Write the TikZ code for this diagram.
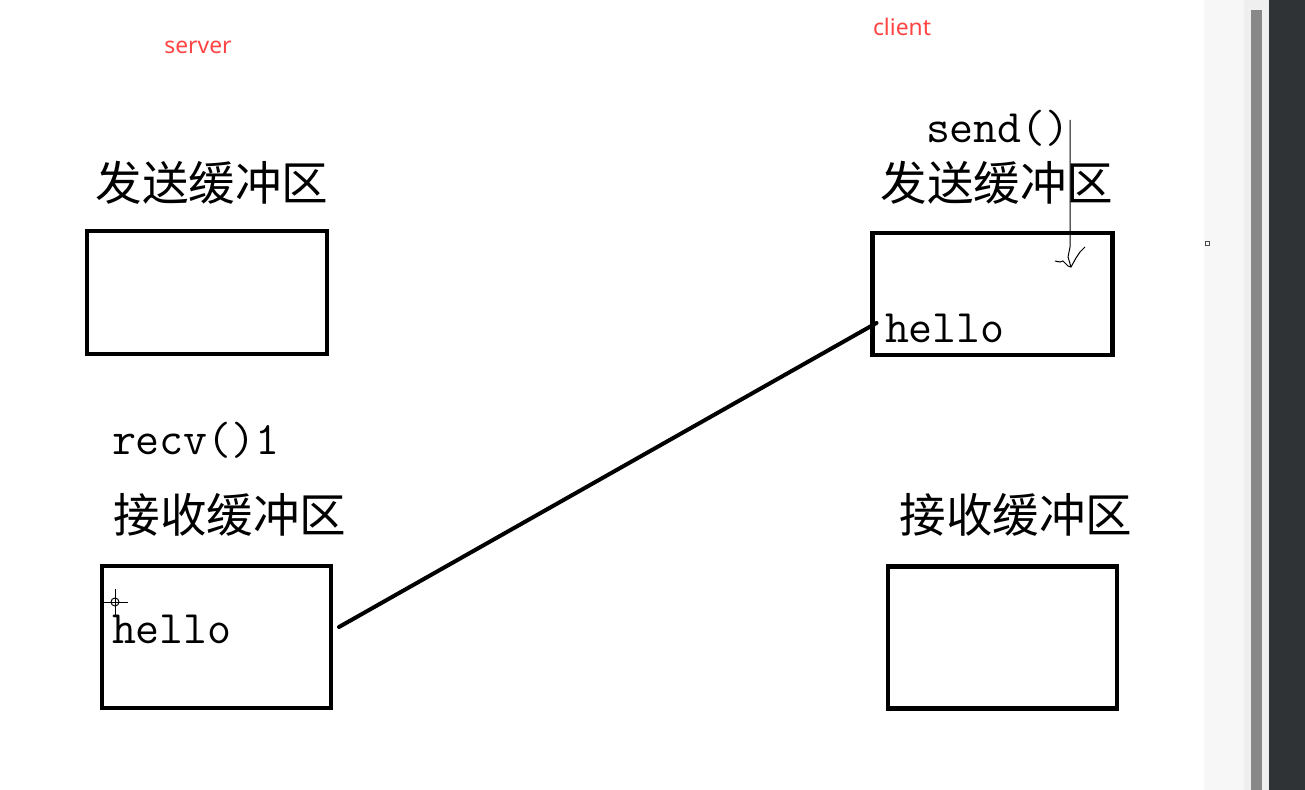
\documentclass[tikz,border=0pt]{standalone}
\usepackage{fontspec}
\newfontfamily\cjk{Noto Sans CJK SC}
\newfontfamily\codefont{Latin Modern Mono}
\newfontfamily\tagfont{Noto Sans}
\definecolor{tagred}{HTML}{FF4444}
\definecolor{barlight}{HTML}{F7F7F7}
\definecolor{bargray}{HTML}{EFEFEF}
\definecolor{thumbgray}{HTML}{888888}
\definecolor{bardark}{HTML}{2F3336}

\begin{document}
\begin{tikzpicture}[x=0.02cm, y=-0.02cm, line join=miter,
	every node/.style={inner sep=0pt, outer sep=0pt},
	tag/.style={font=\tagfont\fontsize{13}{13}\selectfont, text=tagred},
	buflabel/.style={font=\cjk\fontsize{26.5}{26.5}\selectfont},
	code/.style={font=\codefont\fontsize{26.5}{26.5}\selectfont, anchor=west},
	sendbuf/.style={draw, line width=0.085cm, minimum width=4.8cm, minimum height=2.45cm},
	recvbuf/.style={draw, line width=0.085cm, minimum width=4.58cm, minimum height=2.84cm}]
	\useasboundingbox (0, 0) rectangle (1305, 790);
	
	% Hintergrund / scroll bar
	\fill[white] (0, 0) rectangle (1204, 790);
	\fill[barlight] (1204, 0) rectangle (1244, 790);
	\fill[bargray] (1244, 0) rectangle (1269, 790);
	\fill[thumbgray] (1251, 10) rectangle (1262, 790);
	\fill[bardark] (1269, 0) rectangle (1305, 790);
	\draw[line width=0.02cm, black!70] (1205, 242) rectangle (1209, 246);
	
	% server
	\node[tag] (server) at (198, 47) {server};
	\node[buflabel] (ssendlabel) at (212, 183) {发送缓冲区};
	\node[sendbuf] (ssend) at (207, 292.5) {};
	\node[code] (recv) at (112, 440) {recv()1};
	\node[buflabel] (srecvlabel) at (230, 515) {接收缓冲区};
	\node[recvbuf] (srecv) at (216.5, 637) {};
	\node[code] (shello) at (112, 629) {hello};
	
	% cursor
	\draw[line width=0.02cm] (115, 602) circle (4);
	\draw[line width=0.02cm] (101, 602) -- (128, 602);
	\draw[line width=0.02cm] (115, 589) -- (115, 615);
	
	% client
	\node[tag] (client) at (902, 27) {client};
	\node[code] (send) at (926, 128) {send()};
	\node[buflabel] (csendlabel) at (997, 183) {发送缓冲区};
	\node[sendbuf] (csend) at (992.5, 294) {};
	\node[code] (chello) at (885, 328) {hello};
	\node[buflabel] (crecvlabel) at (1016, 515) {接收缓冲区};
	\node[recvbuf] (crecv) at (1002.5, 637.5) {};
	
	% hand drawn arrow
	\coordinate (pen) at (1070, 120);
	\draw[line width=0.02cm] (pen) -- (1070, 247) -- (1068, 257) -- (1071, 267);
	\draw[line width=0.02cm] (1055, 261) -- (1060, 262) -- (1063, 261) -- (1068, 266) -- (1071, 267) -- (1076, 258) -- (1080, 252) -- (1085, 247);
	
	% data
	\draw[line width=0.08cm, line cap=round] ([shift={(8, -10)}]srecv.east) -- ([shift={(4, 29)}]csend.west);
	
\end{tikzpicture}
\end{document}
